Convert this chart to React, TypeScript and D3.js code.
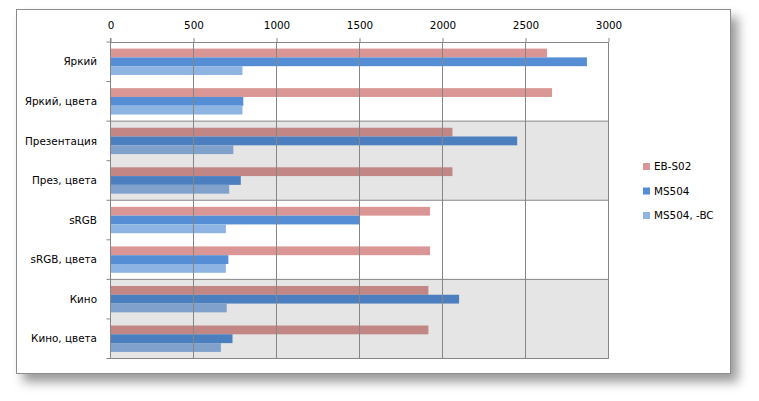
import React, { useRef, useEffect } from 'react';
import * as d3 from 'd3';

// categories, top to bottom
const categories = [
    'Яркий',
    'Яркий, цвета',
    'Презентация',
    'През, цвета',
    'sRGB',
    'sRGB, цвета',
    'Кино',
    'Кино, цвета',
];

const seriesNames = ['EB-S02', 'MS504', 'MS504, -BC'];
const seriesColors = ['#d99694', '#558ed5', '#8eb4e3'];

const ebS02 = [2630, 2660, 2060, 2060, 1925, 1925, 1915, 1915];
const ms504 = [2870, 800, 2450, 785, 1500, 710, 2100, 735];
const ms504bc = [795, 795, 740, 715, 695, 695, 700, 665];

// category groups that sit on the gray background
const shadedGroups = [
    ['Презентация', 'През, цвета'],
    ['Кино', 'Кино, цвета'],
];

const xTicks = [0, 500, 1000, 1500, 2000, 2500, 3000];

const FONT = '"DejaVu Sans", Verdana, sans-serif';
const FONT_SIZE = '10.4px';

const App: React.FC = () => {
    const svgRef = useRef<SVGSVGElement>(null);

    useEffect(() => {
        const svg = d3.select(svgRef.current);
        svg.selectAll('*').remove();

        const width = 759;
        const height = 401;
        const plot = { left: 110.5, right: 608.5, top: 42, bottom: 358.5 };
        const gridColor = '#868686';

        const values = [ebS02, ms504, ms504bc];

        const x = d3.scaleLinear().domain([0, 3000]).range([plot.left, plot.right]);
        const y = d3.scaleBand<string>().domain(categories).range([plot.top, plot.bottom]).padding(0);
        const ySub = d3.scaleBand<string>()
            .domain(seriesNames)
            .range([0, y.bandwidth()])
            .paddingInner(0)
            .paddingOuter(0.75);

        // drop shadow for the outer frame
        const defs = svg.append('defs');
        const filter = defs.append('filter')
            .attr('id', 'frameShadow')
            .attr('x', '-10%').attr('y', '-10%')
            .attr('width', '125%').attr('height', '130%');
        filter.append('feDropShadow')
            .attr('dx', 7).attr('dy', 8)
            .attr('stdDeviation', 5.5)
            .attr('flood-color', '#000')
            .attr('flood-opacity', 0.4);

        svg.append('rect')
            .attr('width', width).attr('height', height)
            .attr('fill', '#fff');

        svg.append('rect')
            .attr('x', 16.5).attr('y', 9.5)
            .attr('width', 714).attr('height', 364)
            .attr('fill', '#fff')
            .attr('stroke', '#8c8c8c')
            .attr('stroke-width', 1)
            .attr('filter', 'url(#frameShadow)');

        // bars
        values.forEach((vals, si) => {
            svg.append('g')
                .selectAll('rect')
                .data(vals)
                .join('rect')
                .attr('x', x(0))
                .attr('y', (_, i) => (y(categories[i]) ?? 0) + (ySub(seriesNames[si]) ?? 0))
                .attr('width', d => x(d) - x(0))
                .attr('height', ySub.bandwidth())
                .attr('fill', seriesColors[si]);
        });

        // gray bands (darken what lies under them)
        shadedGroups.forEach(group => {
            const y0 = y(group[0]) ?? 0;
            const y1 = (y(group[group.length - 1]) ?? 0) + y.bandwidth();
            svg.append('rect')
                .attr('x', plot.left)
                .attr('y', y0)
                .attr('width', plot.right - plot.left)
                .attr('height', y1 - y0)
                .attr('fill', '#000')
                .attr('fill-opacity', 0.1)
                .attr('stroke', 'none');
            [y0, y1].forEach(yy => {
                svg.append('line')
                    .attr('x1', plot.left).attr('x2', plot.right)
                    .attr('y1', yy).attr('y2', yy)
                    .attr('stroke', gridColor).attr('stroke-width', 1);
            });
        });

        // vertical gridlines
        svg.append('g')
            .selectAll('line')
            .data(xTicks.slice(1))
            .join('line')
            .attr('x1', d => x(d)).attr('x2', d => x(d))
            .attr('y1', plot.top).attr('y2', plot.bottom)
            .attr('stroke', gridColor)
            .attr('stroke-width', 1);

        // bottom line
        svg.append('line')
            .attr('x1', plot.left).attr('x2', plot.right)
            .attr('y1', plot.bottom).attr('y2', plot.bottom)
            .attr('stroke', gridColor);

        // top axis
        const xAxis = svg.append('g')
            .attr('transform', `translate(0,${plot.top})`)
            .call(d3.axisTop(x).tickValues(xTicks).tickSize(4).tickSizeOuter(0).tickPadding(9).tickFormat(d => `${d}`));
        xAxis.select('.domain').attr('stroke', gridColor);
        xAxis.selectAll('.tick line').attr('stroke', gridColor);
        xAxis.selectAll('.tick text')
            .attr('fill', '#000')
            .style('font-family', FONT)
            .style('font-size', FONT_SIZE);

        // left axis: ticks on category boundaries
        svg.append('line')
            .attr('x1', plot.left).attr('x2', plot.left)
            .attr('y1', plot.top - 4).attr('y2', plot.bottom)
            .attr('stroke', gridColor);
        const boundaries = categories.map(c => y(c) ?? 0).concat([plot.bottom]);
        svg.append('g')
            .selectAll('line')
            .data(boundaries)
            .join('line')
            .attr('x1', plot.left - 4).attr('x2', plot.left)
            .attr('y1', d => d).attr('y2', d => d)
            .attr('stroke', gridColor);

        svg.append('g')
            .selectAll('text')
            .data(categories)
            .join('text')
            .attr('x', 97)
            .attr('y', d => (y(d) ?? 0) + y.bandwidth() / 2)
            .attr('dy', '0.35em')
            .attr('text-anchor', 'end')
            .attr('fill', '#000')
            .style('font-family', FONT)
            .style('font-size', FONT_SIZE)
            .text(d => d);

        // legend
        const legend = svg.append('g')
            .selectAll('g')
            .data(seriesNames)
            .join('g')
            .attr('transform', (_, i) => `translate(643,${166.5 + i * 24.5})`);
        legend.append('rect')
            .attr('x', 0).attr('y', -3.5)
            .attr('width', 7).attr('height', 7)
            .attr('fill', (_, i) => seriesColors[i]);
        legend.append('text')
            .attr('x', 11)
            .attr('dy', '0.35em')
            .attr('fill', '#000')
            .style('font-family', FONT)
            .style('font-size', FONT_SIZE)
            .text(d => d);
    }, []);

    return (
        <svg
            ref={svgRef}
            width={759}
            height={401}
            style={{ position: 'absolute', left: 0, top: 0, display: 'block' }}
        />
    );
};

export default App;
